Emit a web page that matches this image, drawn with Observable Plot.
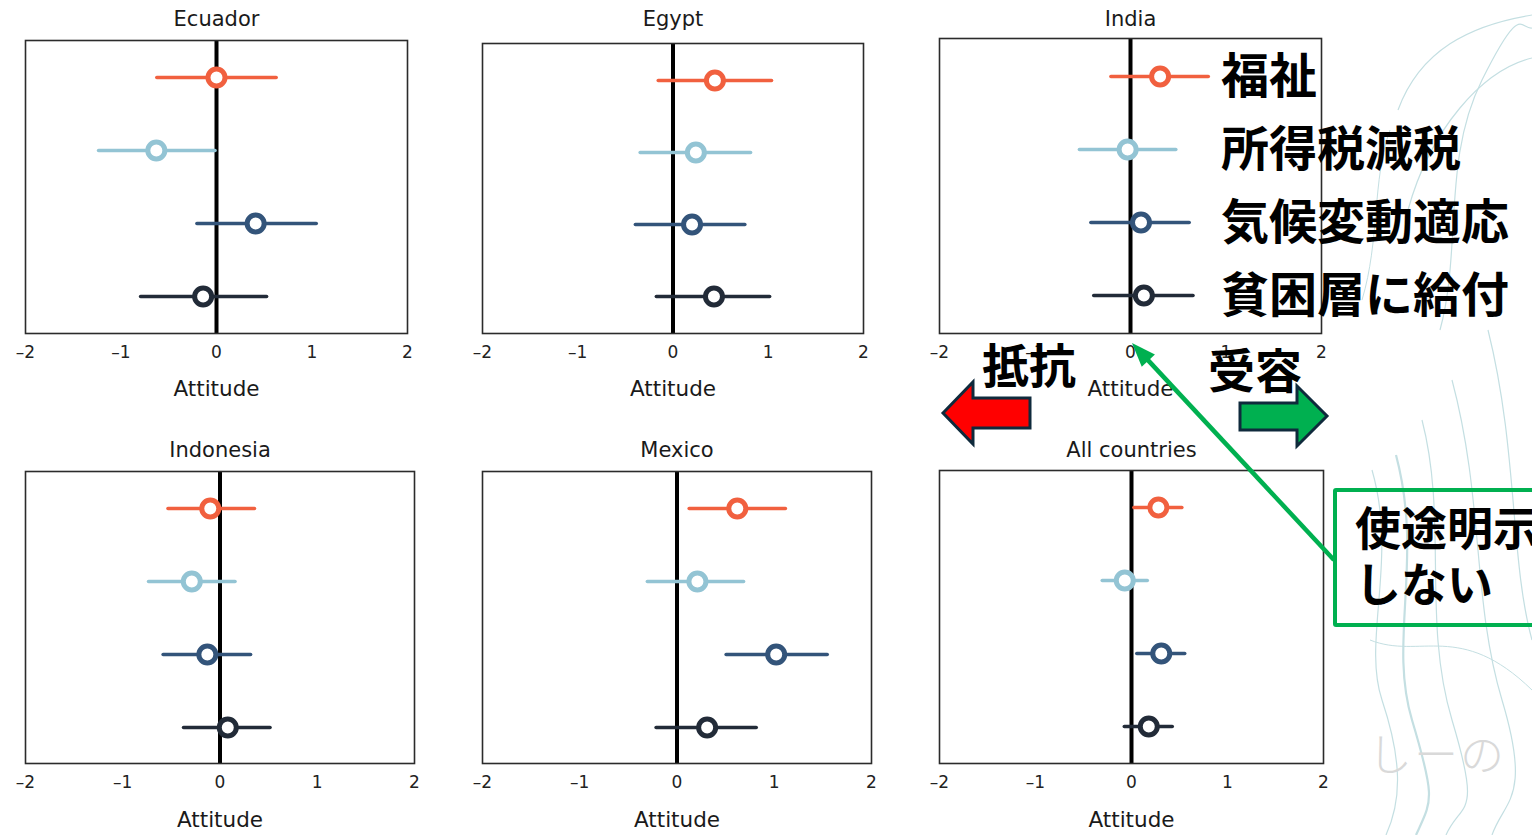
<!DOCTYPE html>
<html><head><meta charset="utf-8">
<script src="https://cdn.jsdelivr.net/npm/d3@7"></script>
<script src="https://cdn.jsdelivr.net/npm/@observablehq/plot@0.6"></script>
<style>
html,body{margin:0;padding:0;background:#fff;width:1532px;height:835px;overflow:hidden;}
#root{position:relative;width:1532px;height:835px;overflow:hidden;}
.panel{position:absolute;z-index:1;}
.jp{position:absolute;font-family:"Noto Sans CJK JP";font-weight:700;color:#000;white-space:nowrap;line-height:1;z-index:4;}
#deco{position:absolute;left:0;top:0;width:1532px;height:835px;pointer-events:none;z-index:0;}
#overlay{position:absolute;left:0;top:0;width:1532px;height:835px;pointer-events:none;z-index:5;}
#callout{position:absolute;left:1333px;top:488px;width:260px;height:139px;box-sizing:border-box;border:4px solid #00b050;border-radius:3px;padding:5px 0 0 18px;font-family:"Noto Sans CJK JP";font-weight:700;font-size:46px;line-height:56px;color:#000;white-space:nowrap;z-index:6;}
#wm{position:absolute;left:1368px;top:726px;font-family:"Noto Sans CJK JP";font-weight:300;font-size:44px;line-height:52px;color:#d9d9d9;white-space:nowrap;letter-spacing:2px;z-index:0;}
</style></head><body><div id="root"></div>
<script>
// ---- data ----
const countries = ["Ecuador", "Egypt", "India", "Indonesia", "Mexico", "All countries"];
const categories = ["福祉", "所得税減税", "気候変動適応", "貧困層に給付"];
const seriesColors = ["#f1603f", "#93c4d4", "#33547a", "#222b38"];
const xTicks = [-2, -1, 0, 1, 2];
const axisTitle = "Attitude";
// estimates per country (rows: countries, cols: categories)
const means = [
  [0.00, -0.63, 0.41, -0.14],
  [0.44, 0.24, 0.20, 0.43],
  [0.31, -0.03, 0.11, 0.14],
  [-0.10, -0.29, -0.13, 0.08],
  [0.62, 0.21, 1.02, 0.31],
  [0.28, -0.07, 0.31, 0.18]
];
const lows = [
  [-0.62, -1.23, -0.20, -0.79],
  [-0.15, -0.34, -0.39, -0.17],
  [-0.20, -0.53, -0.41, -0.38],
  [-0.53, -0.73, -0.58, -0.37],
  [0.13, -0.30, 0.51, -0.21],
  [0.03, -0.30, 0.06, -0.07]
];
const highs = [
  [0.63, -0.01, 1.05, 0.53],
  [1.04, 0.82, 0.76, 1.02],
  [0.82, 0.48, 0.62, 0.66],
  [0.36, 0.16, 0.32, 0.52],
  [1.12, 0.69, 1.55, 0.82],
  [0.53, 0.17, 0.56, 0.43]
];
const resistLabel = "抵抗";
const acceptLabel = "受容";
const calloutLines = ["使途明示", "しない"];
const watermark = "しーの";

// ---- layout (page pixels of each panel frame) ----
const frames = [
  {l: 25, r: 407, t: 40, b: 333, row: 0},
  {l: 482, r: 863, t: 43, b: 333, row: 0},
  {l: 939, r: 1321, t: 38, b: 333, row: 0, labels: true},
  {l: 25, r: 414, t: 471, b: 763, row: 1},
  {l: 482, r: 871, t: 471, b: 763, row: 1},
  {l: 939, r: 1323, t: 470, b: 763, row: 1}
];
const rowTop = [0, 430];
const titleY = [18.5, 449.5];
const attY = [388.5, 820];

const root = document.getElementById("root");
const ns = "http://www.w3.org/2000/svg";

// faint decorative background waves (slide decoration, not data)
const deco = document.createElementNS(ns, "svg");
deco.setAttribute("id", "deco");
deco.setAttribute("width", 1532); deco.setAttribute("height", 835);
[
  ["M1372,470 C1398,560 1362,640 1382,700 S1402,800 1386,835", 1.2],
  ["M1396,455 C1424,560 1388,640 1412,720 S1432,800 1416,835", 2.2],
  ["M1422,420 C1448,520 1422,620 1452,720 S1462,800 1446,835", 1.2],
  ["M1452,380 C1484,500 1472,600 1502,700 S1504,800 1492,835", 1.2],
  ["M1488,330 C1518,450 1510,560 1532,640", 1.2],
  ["M1398,110 C1420,50 1470,25 1532,15", 1.2],
  ["M1408,210 C1430,130 1482,70 1532,58", 1.2],
  ["M1440,330 C1462,250 1442,160 1482,80 S1520,30 1532,28", 1.2],
  ["M1362,300 C1380,240 1372,180 1390,130", 1.0],
  ["M1370,640 C1420,660 1460,620 1532,690", 1.0]
].forEach(([d, w]) => {
  const p = document.createElementNS(ns, "path");
  p.setAttribute("d", d); p.setAttribute("fill", "none");
  p.setAttribute("stroke", "#c4dfe2"); p.setAttribute("stroke-width", w);
  deco.appendChild(p);
});
root.appendChild(deco);

const fmt = d => d < 0 ? "\u2013" + Math.abs(d) : String(d);
let indiaInfo = null;

frames.forEach((f, i) => {
  const top = rowTop[f.row];
  const ml = 24;
  const left = f.l - ml;
  const mr = f.labels ? 1532 - f.r : 24;
  const width = (f.r - left) + mr;
  const height = 405;
  const mt = f.t - top;
  const mb = top + height - f.b;
  const data = categories.map((c, j) => ({cat: c, mean: means[i][j], lo: lows[i][j], hi: highs[i][j]}));
  const marks = [
    Plot.ruleX([0], {stroke: "#000", strokeWidth: 4}),
    Plot.ruleY(data, {y: "cat", x1: "lo", x2: "hi", stroke: "cat", strokeWidth: 3.5, strokeLinecap: "round"}),
    Plot.dot(data, {x: "mean", y: "cat", r: 8.5, stroke: "cat", strokeWidth: 5, fill: "white"}),
    Plot.frame({stroke: "#2b2b2b", strokeWidth: 1.6}),
    Plot.axisX({ticks: xTicks, tickSize: 0, tickPadding: 12, fontSize: 17, tickFormat: fmt, label: null, fill: "#222"}),
    Plot.text([countries[i]], {frameAnchor: "top", dy: titleY[f.row] - f.t, fontSize: 21, lineAnchor: "middle", fill: "#1a1a1a"}),
    Plot.text([axisTitle], {frameAnchor: "bottom", dy: attY[f.row] - f.b, fontSize: 21.5, lineAnchor: "middle", fill: "#1a1a1a"})
  ];
  if (f.labels) {
    marks.push(Plot.text(data, {x: () => 1, y: "cat", text: "cat", textAnchor: "start", dx: -5, dy: 1,
      fontSize: 48, fontWeight: 700, fontFamily: "Noto Sans CJK JP", fill: "#000", lineAnchor: "middle"}));
  }
  const plot = Plot.plot({
    width, height,
    marginLeft: ml, marginRight: mr, marginTop: mt, marginBottom: mb,
    x: {domain: [-2, 2], axis: null},
    y: {type: "point", domain: categories, padding: 0.5, axis: null},
    color: {domain: categories, range: seriesColors},
    style: {fontFamily: "'DejaVu Sans', sans-serif", background: "transparent", overflow: "visible"},
    marks
  });
  plot.classList.add("panel");
  plot.style.left = left + "px";
  plot.style.top = top + "px";
  plot.style.maxWidth = "none";
  root.appendChild(plot);
  if (f.labels) indiaInfo = {left, top, sx: plot.scale("x"), bottom: f.b};
});

// watermark
const wm = document.createElement("div");
wm.id = "wm"; wm.textContent = watermark; root.appendChild(wm);

// direction labels
function jp(text, x, y, size) {
  const d = document.createElement("div");
  d.className = "jp"; d.textContent = text;
  d.style.left = x + "px"; d.style.top = (y - size / 2) + "px"; d.style.fontSize = size + "px";
  root.appendChild(d);
}
jp(resistLabel, 982, 362, 47);
jp(acceptLabel, 1208, 367, 47);

// callout
const co = document.createElement("div");
co.id = "callout";
co.innerHTML = calloutLines.join("<br>");
root.appendChild(co);

// overlay arrows
const svg = document.createElementNS(ns, "svg");
svg.setAttribute("id", "overlay");
svg.setAttribute("width", 1532); svg.setAttribute("height", 835);
root.appendChild(svg);
function poly(pts, fill, stroke, sw) {
  const p = document.createElementNS(ns, "polygon");
  p.setAttribute("points", pts.map(q => q.join(",")).join(" "));
  p.setAttribute("fill", fill);
  if (stroke) { p.setAttribute("stroke", stroke); p.setAttribute("stroke-width", sw); p.setAttribute("stroke-linejoin", "miter"); }
  svg.appendChild(p);
}
poly([[943,413],[973,382],[973,398],[1030,398],[1030,428],[973,428],[973,444]], "#ff0000", "#0f2a3c", 3);
poly([[1240,403],[1297,403],[1297,386],[1327,416],[1297,446],[1297,430],[1240,430]], "#00b050", "#0f2a3c", 3);

// pointer from callout to the zero tick of India
const tipX = indiaInfo.left + indiaInfo.sx.apply(0) + 2;
const tipY = indiaInfo.bottom + 10;
const tailX = 1334, tailY = 560;
const dx = tipX - tailX, dy = tipY - tailY, len = Math.hypot(dx, dy);
const ux = dx / len, uy = dy / len, px = -uy, py = ux;
const hl = 24, hw = 9;
const bx = tipX - ux * hl, by = tipY - uy * hl;
const line = document.createElementNS(ns, "line");
line.setAttribute("x1", tailX); line.setAttribute("y1", tailY);
line.setAttribute("x2", bx + ux * 4); line.setAttribute("y2", by + uy * 4);
line.setAttribute("stroke", "#00b050"); line.setAttribute("stroke-width", 4.5);
svg.appendChild(line);
poly([[tipX, tipY], [bx + px * hw, by + py * hw], [bx - px * hw, by - py * hw]], "#00b050");
</script>
</body></html>
